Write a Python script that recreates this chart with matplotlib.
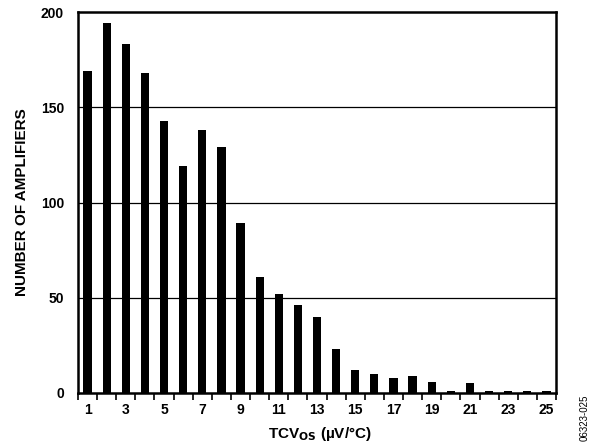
import matplotlib
matplotlib.use("Agg")
import matplotlib.pyplot as plt

tcvos = list(range(1, 26))
counts = [169, 194, 183, 168, 143, 119, 138, 129, 89, 61, 52, 46, 40, 23,
          12, 10, 8, 9, 6, 1, 5, 1, 1, 1, 1]
xtick_labels = [str(v) for v in range(1, 26, 2)]
ytick_vals = [0, 50, 100, 150, 200]

plt.rcParams['font.family'] = ['Liberation Sans', 'DejaVu Sans']
plt.rcParams['font.weight'] = 'bold'

W, H = 595, 444
fig = plt.figure(figsize=(W/100, H/100), dpi=100)
ax = fig.add_axes([78/W, 1 - 393/H, (556-78)/W, (393-12)/H])

ax.bar(tcvos, counts, width=0.43, color='black', zorder=3)
ax.set_xlim(0.5, 25.5)
ax.set_ylim(0, 200)

ax.set_yticks(ytick_vals)
ax.set_yticklabels([str(v) for v in ytick_vals], fontsize=10, fontweight='bold')
ax.tick_params(axis='y', length=0, pad=10)

ax.set_xticks([v + 0.5 for v in range(0, 26)])
ax.set_xticklabels([])
ax.tick_params(axis='x', direction='out', length=5, width=1.2, color='black')
for v, lab in zip(range(1, 26, 2), xtick_labels):
    ax.text(v, -5, lab, ha='center', va='top', fontsize=10, fontweight='bold')

for g in [50, 100, 150]:
    ax.axhline(g, color='black', linewidth=0.9, zorder=1)

for s in ax.spines.values():
    s.set_linewidth(1.8)

fig.text(22/W, 1 - 202/H, 'NUMBER OF AMPLIFIERS', rotation=90, ha='center', va='center',
         fontsize=11, fontweight='bold')
fig.text(320/W, 1 - 438/H, r'TCV$_{\mathbf{OS}}$ (µV/°C)', ha='center', va='baseline',
         fontsize=11, fontweight='bold')

fig.text(585/W, 1 - 395/H, '06323-025', rotation=90, ha='center', va='top',
         fontsize=7, fontweight='normal')

fig.savefig('out.png', dpi=100)
